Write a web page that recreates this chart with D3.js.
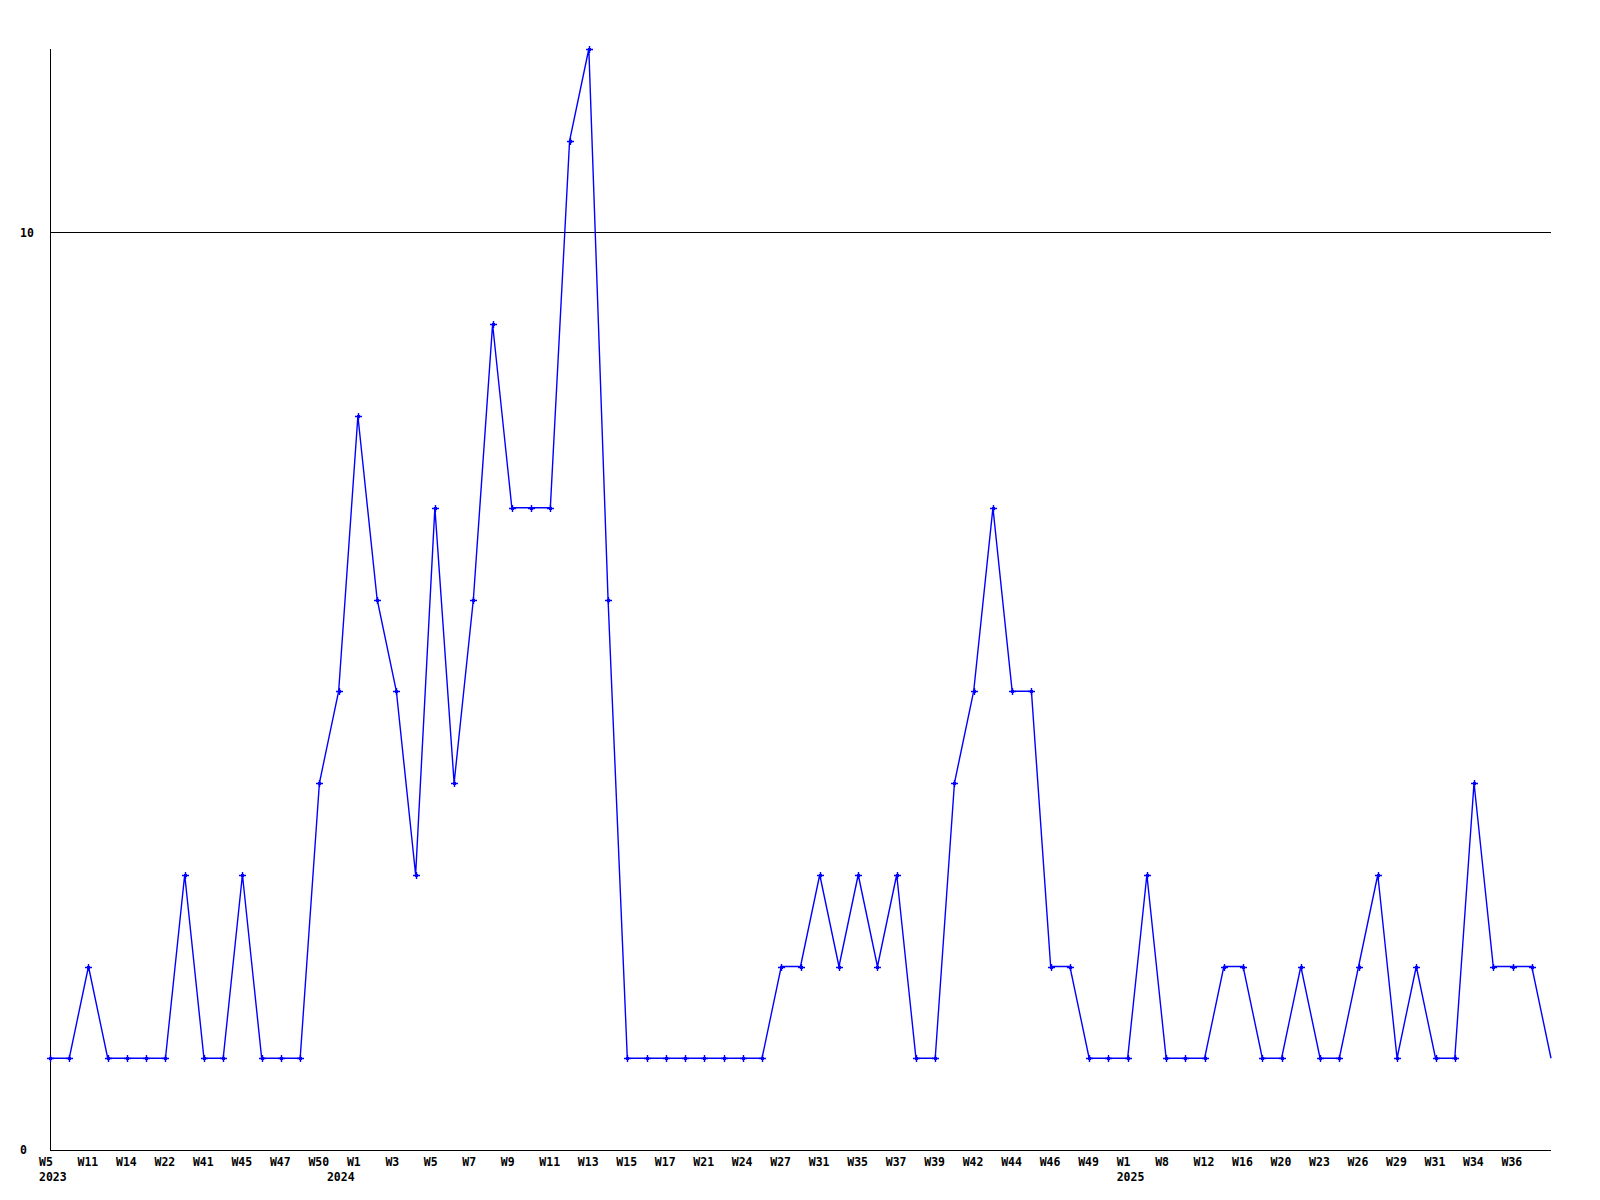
<!DOCTYPE html>
<html>
<head>
<meta charset="utf-8">
<script src="https://cdn.jsdelivr.net/npm/d3@7"></script>
<style>
  body { margin: 0; background: #fff; }
  text { font-family: "DejaVu Sans Mono", monospace; font-weight: bold; font-size: 11.5px; fill: #000; }
</style>
</head>
<body>
<div class="chart"></div>
<script>
// weekly counts, one per point (last one runs into the right edge)
const values = [1,1,2,1,1,1,1,3,1,1,3,1,1,1,4,5,8,6,5,3,7,4,6,9,7,7,7,11,12,6,
                1,1,1,1,1,1,1,1,2,2,3,2,3,2,3,1,1,4,5,7,5,5,2,2,1,1,1,3,1,1,
                1,2,2,1,1,2,1,1,2,3,1,2,1,1,4,2,2,2,1];

// labels shown under every second point
const tickLabels = ["W5","W11","W14","W22","W41","W45","W47","W50","W1","W3",
                    "W5","W7","W9","W11","W13","W15","W17","W21","W24","W27",
                    "W31","W35","W37","W39","W42","W44","W46","W49","W1","W8",
                    "W12","W16","W20","W23","W26","W29","W31","W34","W36"];

const yearLabels = [
    {tick: 0, year: "2023"},
    {tick: 8, year: "2024"},
    {tick: 28, year: "2025"}
];

const yTicks = [0, 10];

const width = 1600, height = 1200;
const margin = {left: 50, right: 1551, top: 49, bottom: 1150};

const svg = d3.select('.chart')
    .append('svg')
    .attr('width', width)
    .attr('height', height);

const x = d3.scalePoint()
    .domain(d3.range(values.length))
    .range([margin.left, margin.right]);

const y = d3.scaleLinear()
    .domain([0, 12])
    .range([margin.bottom, margin.top]);

// grid line at 10
svg.append('g')
    .selectAll('line')
    .data(yTicks.filter(d => d > 0))
    .join('line')
    .attr('x1', margin.left).attr('x2', margin.right)
    .attr('y1', d => Math.round(y(d)) + 0.5)
    .attr('y2', d => Math.round(y(d)) + 0.5)
    .attr('stroke', '#000')
    .attr('stroke-width', 1);

// axes
svg.append('line')
    .attr('x1', margin.left + 0.5).attr('x2', margin.left + 0.5)
    .attr('y1', margin.top).attr('y2', margin.bottom + 1)
    .attr('stroke', '#000');
svg.append('line')
    .attr('x1', margin.left).attr('x2', margin.right)
    .attr('y1', margin.bottom + 0.5).attr('y2', margin.bottom + 0.5)
    .attr('stroke', '#000');

// y tick labels
svg.append('g')
    .selectAll('text')
    .data(yTicks)
    .join('text')
    .attr('x', 20)
    .attr('y', d => y(d) + 4)
    .text(d => d);

// x tick labels
svg.append('g')
    .selectAll('text')
    .data(tickLabels)
    .join('text')
    .attr('x', (d, i) => x(i * 2) - 11)
    .attr('y', 1166)
    .text(d => d);

svg.append('g')
    .selectAll('text')
    .data(yearLabels)
    .join('text')
    .attr('x', d => x(d.tick * 2) - (d.year === "2024" ? 31 : 11))
    .attr('y', 1181)
    .text(d => d.year);

// the line
const line = d3.line()
    .x((d, i) => x(i))
    .y(d => y(d));

svg.append('path')
    .datum(values)
    .attr('d', line)
    .attr('fill', 'none')
    .attr('stroke', '#0000ff')
    .attr('stroke-width', 1.4);

// point markers (none on the last point)
const marks = svg.append('g')
    .attr('fill', '#0000ff')
    .attr('stroke', '#0000ff')
    .selectAll('g')
    .data(values.slice(0, -1))
    .join('g')
    .attr('transform', (d, i) => `translate(${Math.round(x(i))},${Math.round(y(d))})`);

marks.append('path')
    .attr('d', 'M-3,0.5H4M0.5,-3V4')
    .attr('stroke-width', 1.4);
marks.append('rect')
    .attr('x', -1).attr('y', -1)
    .attr('width', 3).attr('height', 3)
    .attr('stroke', 'none');
</script>
</body>
</html>
